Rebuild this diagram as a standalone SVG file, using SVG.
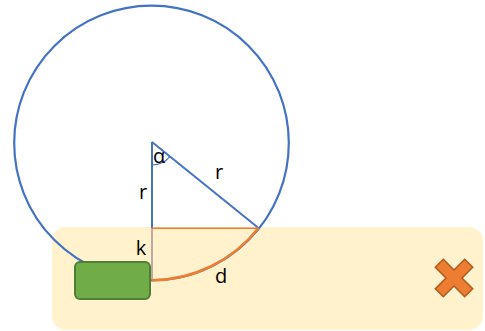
<svg xmlns="http://www.w3.org/2000/svg" width="485" height="331" viewBox="0 0 485 331">
  <style>
    .lbl { font-family: "Open Sans", "Liberation Sans", sans-serif; font-size: 20px; fill: #000; text-anchor: middle; }
    .blue { stroke: #4472C4; fill: none; }
    .orange { stroke: #ED7D31; fill: none; }
  </style>
  <rect width="485" height="331" fill="#FFFFFF"/>
  <g id="zone">
    <rect x="52" y="227" width="431" height="103" rx="14" ry="14" fill="#FFF2CC"/>
  </g>
  <g id="circle">
    <circle cx="151.5" cy="143" r="137.3" class="blue" stroke-width="2.2"/>
  </g>
  <g id="vehicle">
    <rect x="75" y="262" width="75" height="37" rx="5" ry="5" fill="#70AD47" stroke="#507E32" stroke-width="2"/>
  </g>
  <g id="connectors">
    <line x1="152" y1="142" x2="152" y2="228" class="blue" stroke-width="2"/>
    <line x1="152" y1="228" x2="152" y2="280.5" stroke="#A99096" stroke-width="1.5"/>
    <line x1="152" y1="142" x2="258.5" y2="228" class="blue" stroke-width="2"/>
    <path d="M152,165 A23,23 0 0,0 170,156.4" class="blue" stroke-width="1.2"/>
    <line x1="152" y1="228.3" x2="258.5" y2="228.3" class="orange" stroke-width="1.5"/>
    <path d="M152,280.3 A137.3,137.3 0 0,0 258.5,228" class="orange" stroke-width="2.6"/>
  </g>
  <g id="labels">
    <text class="lbl" x="159" y="163">α</text>
    <text class="lbl" x="219" y="179">r</text>
    <text class="lbl" x="143" y="199">r</text>
    <text class="lbl" x="141" y="255">k</text>
    <text class="lbl" x="221" y="283">d</text>
  </g>
  <g id="cross">
    <polygon points="454,270 464.7,259.3 472.7,267.3 462,278 472.7,288.7 464.7,296.7 454,286 443.3,296.7 435.3,288.7 446,278 435.3,267.3 443.3,259.3" fill="#ED7D31" stroke="#AE5A21" stroke-width="1.5" stroke-linejoin="miter"/>
  </g>
</svg>
